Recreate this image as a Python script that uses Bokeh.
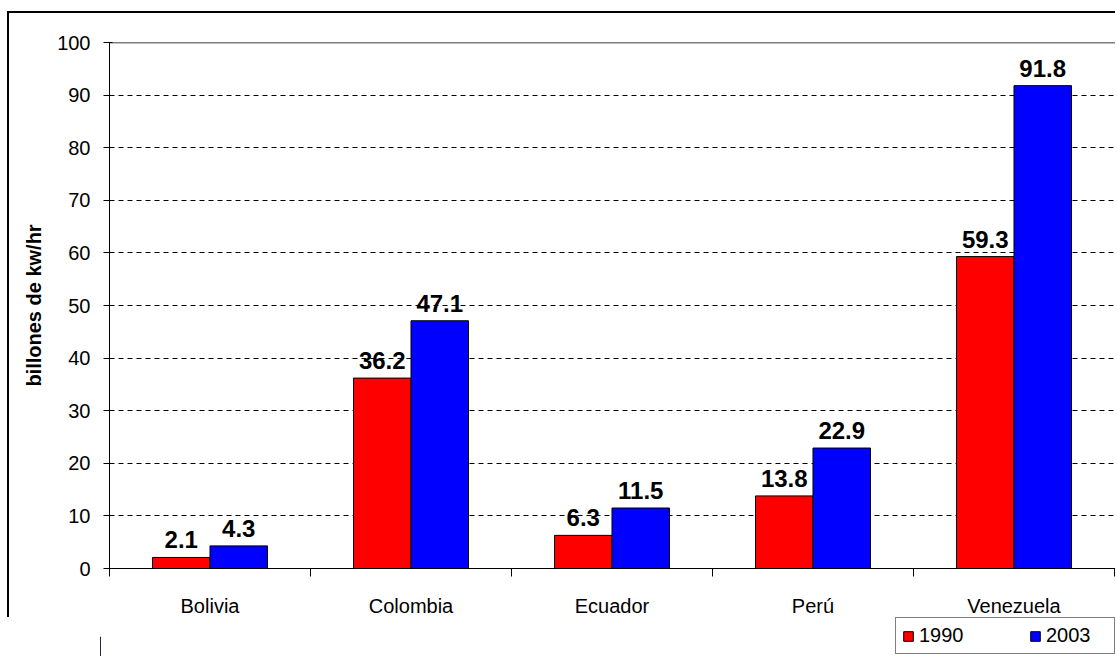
from bokeh.plotting import figure
from bokeh.layouts import column
from bokeh.models import (ColumnDataSource, FixedTicker, LabelSet, Legend,
                          LegendItem, Span, Range1d)
from bokeh.transform import dodge
from bokeh.core.properties import value
from bokeh.embed import file_html
from bokeh.resources import INLINE

countries = ["Bolivia", "Colombia", "Ecuador", "Perú", "Venezuela"]
values_1990 = [2.1, 36.2, 6.3, 13.8, 59.3]
values_2003 = [4.3, 47.1, 11.5, 22.9, 91.8]
series_names = ["1990", "2003"]
series_colors = ["#ff0000", "#0000ff"]
y_ticks = [0, 10, 20, 30, 40, 50, 60, 70, 80, 90, 100]
y_label = "billones de kw/hr"

FONT = "Liberation Sans"
idx = list(range(len(countries)))
src = ColumnDataSource(dict(
    idx=idx, country=countries,
    v1990=values_1990, v2003=values_2003,
    l1990=[f"{v:.1f}" for v in values_1990],
    l2003=[f"{v:.1f}" for v in values_2003],
))

# main chart; its canvas starts at page (9, 13) because of the outer border styles
p = figure(width=1108, height=606, output_backend="svg", toolbar_location=None,
           x_range=Range1d(-0.5, 4.515), y_range=Range1d(0, 100),
           min_border_left=100, min_border_right=0, min_border_top=29, min_border_bottom=50)
p.styles = {"margin-left": "7px", "margin-top": "11px",
            "border-left": "2px solid black", "border-top": "2px solid black"}
p.outline_line_color = None
p.background_fill_color = "white"
p.border_fill_color = "white"

bw = 0.286
r1 = p.vbar(x=dodge("idx", -bw / 2, range=p.x_range), top="v1990", width=bw, source=src,
            fill_color=series_colors[0], line_color="black", line_width=1)
r2 = p.vbar(x=dodge("idx", bw / 2, range=p.x_range), top="v2003", width=bw, source=src,
            fill_color=series_colors[1], line_color="black", line_width=1)

for col, off in (("l1990", -bw / 2), ("l2003", bw / 2)):
    top = "v1990" if col == "l1990" else "v2003"
    p.add_layout(LabelSet(x=dodge("idx", off, range=p.x_range), y=top, text=col, source=src,
                          text_align="center", text_baseline="alphabetic", y_offset=9,
                          text_font=value(FONT), text_font_style="bold",
                          text_font_size="24px", text_color="black"))

# axes
p.xgrid.visible = False
p.ygrid.ticker = FixedTicker(ticks=y_ticks[1:-1])
p.ygrid.grid_line_color = "black"
p.ygrid.grid_line_dash = "5 4"
p.ygrid.grid_line_width = 1

p.yaxis.ticker = FixedTicker(ticks=y_ticks)
p.yaxis.major_tick_in = 3
p.yaxis.major_tick_out = 6
p.yaxis.minor_tick_line_color = None
p.yaxis.major_label_standoff = 13
p.yaxis.major_label_text_font = FONT
p.yaxis.major_label_text_font_size = "20px"
p.yaxis.major_label_text_color = "black"
p.yaxis.axis_line_color = "black"
p.yaxis.major_tick_line_color = "black"
p.yaxis.axis_label = y_label
p.yaxis.axis_label_standoff = 9
p.yaxis.axis_label_text_font = FONT
p.yaxis.axis_label_text_font_style = "bold"
p.yaxis.axis_label_text_font_size = "20px"
p.yaxis.axis_label_text_color = "black"

p.xaxis.ticker = FixedTicker(ticks=idx, minor_ticks=[i - 0.5 for i in idx + [len(idx)]])
p.xaxis.major_label_overrides = {i: c for i, c in enumerate(countries)}
p.xaxis.major_tick_line_color = None
p.xaxis.major_tick_in = 0
p.xaxis.major_tick_out = 0
p.xaxis.minor_tick_in = 0
p.xaxis.minor_tick_out = 8
p.xaxis.minor_tick_line_color = "black"
p.xaxis.major_label_standoff = 18
p.xaxis.major_label_text_font = FONT
p.xaxis.major_label_text_font_size = "20px"
p.xaxis.major_label_text_color = "black"
p.xaxis.axis_line_color = "black"

p.add_layout(Span(location=100, dimension="width", line_color="black", line_width=1.5))

# legend strip below the chart (page y 619..658); its frame is aligned with the chart's
q = figure(width=1117, height=39, output_backend="svg", toolbar_location=None,
           x_axis_type=None, y_axis_type=None, x_range=Range1d(0, 1), y_range=Range1d(0, 1),
           min_border=0)
q.outline_line_color = None
q.grid.visible = False
q.background_fill_color = "white"
q.border_fill_color = "white"
# swatch renderers for the legend only (their single bar lies outside the visible range)
lr = [q.vbar(x=[-1], top=[0.5], width=0.1, fill_color=c, line_color="black", line_width=1)
      for c in series_colors]
legend = Legend(items=[LegendItem(label=n, renderers=[r]) for n, r in zip(series_names, lr)],
                orientation="horizontal", location=(795, 2),
                glyph_width=12, glyph_height=12, label_standoff=5, spacing=48,
                label_width=62, padding=6, margin=0,
                label_text_font=FONT, label_text_font_size="20px", label_text_color="black",
                border_line_color="black", border_line_width=1.5,
                background_fill_color="white", background_fill_alpha=1.0)
q.add_layout(legend, "center")

layout = column(p, q, spacing=0)
open("out.html", "w").write(file_html(layout, INLINE))
